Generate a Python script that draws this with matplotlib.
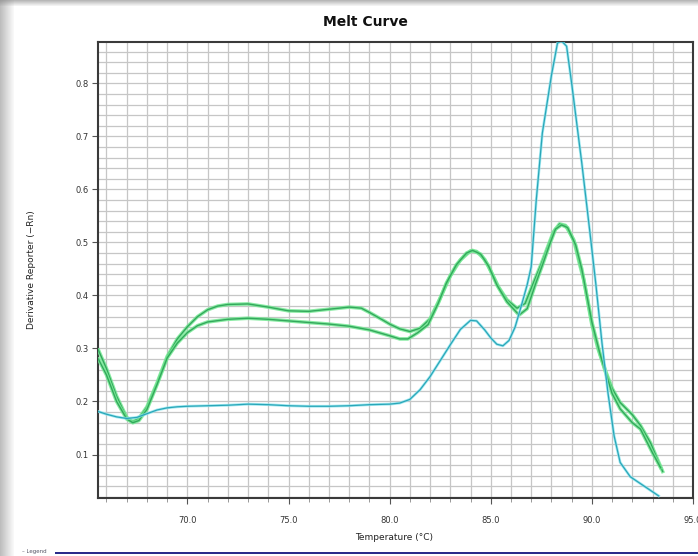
import matplotlib
matplotlib.use("Agg")
import matplotlib.pyplot as plt
import matplotlib.patheffects as pe
from matplotlib.patches import Rectangle
from matplotlib.ticker import MultipleLocator, FormatStrFormatter
import numpy as np

# ---- data ----
cyan_t = [65.6, 66.0, 66.5, 67.0, 67.5, 68.0, 68.5, 69.0, 69.5, 70.0, 71.0, 72.0, 73.0,
          74.0, 75.0, 76.0, 77.0, 78.0, 79.0, 80.0, 80.5, 81.0, 81.5, 82.0, 82.5, 83.0,
          83.5, 84.0, 84.3, 84.7, 85.0, 85.3, 85.6, 85.9, 86.2, 86.5, 86.8, 87.0, 87.25,
          87.55, 88.0, 88.3, 88.5, 88.75, 89.0, 89.5, 89.9, 90.2, 90.5, 90.8, 91.1, 91.4,
          91.9, 92.6, 93.3]
cyan_v = [0.181, 0.176, 0.171, 0.168, 0.170, 0.177, 0.184, 0.188, 0.190, 0.191, 0.192,
          0.193, 0.195, 0.194, 0.192, 0.191, 0.191, 0.192, 0.194, 0.195, 0.197, 0.204,
          0.222, 0.247, 0.277, 0.307, 0.336, 0.353, 0.352, 0.335, 0.320, 0.308, 0.305,
          0.315, 0.340, 0.379, 0.420, 0.454, 0.580, 0.706, 0.815, 0.876, 0.880, 0.870,
          0.800, 0.650, 0.520, 0.420, 0.310, 0.215, 0.135, 0.085, 0.058, 0.040, 0.022]

green1_t = [65.6, 66.0, 66.5, 67.0, 67.3, 67.6, 68.0, 68.5, 69.0, 69.5, 70.0, 70.5, 71.0,
            71.5, 72.0, 73.0, 74.0, 75.0, 76.0, 77.0, 78.0, 78.6, 79.0, 79.6, 80.0, 80.5,
            81.0, 81.5, 82.0, 82.5, 83.0, 83.5, 84.0, 84.3, 84.7, 85.0, 85.4, 85.8, 86.3,
            86.7, 87.1, 87.5, 87.8, 88.1, 88.4, 88.7, 89.1, 89.4, 89.6, 90.0, 90.3, 90.7,
            91.0, 91.4, 92.0, 92.4, 92.9, 93.5]
green1_v = [0.297, 0.262, 0.210, 0.170, 0.162, 0.168, 0.190, 0.235, 0.285, 0.318, 0.341,
            0.360, 0.373, 0.380, 0.383, 0.384, 0.378, 0.371, 0.370, 0.374, 0.378, 0.376,
            0.368, 0.355, 0.346, 0.337, 0.332, 0.338, 0.356, 0.395, 0.437, 0.467, 0.484,
            0.483, 0.468, 0.446, 0.415, 0.392, 0.376, 0.385, 0.423, 0.460, 0.490, 0.520,
            0.535, 0.532, 0.505, 0.458, 0.429, 0.345, 0.300, 0.255, 0.225, 0.198, 0.175,
            0.155, 0.122, 0.068]

green2_t = [65.6, 66.0, 66.5, 67.0, 67.3, 67.6, 68.0, 68.5, 69.0, 69.5, 70.0, 70.5, 71.0,
            72.0, 73.0, 74.0, 75.0, 76.0, 77.0, 78.0, 79.0, 80.0, 80.5, 80.9, 81.4, 81.9,
            82.4, 82.8, 83.3, 83.8, 84.1, 84.5, 84.9, 85.3, 85.8, 86.4, 86.8, 87.2, 87.6,
            87.9, 88.2, 88.5, 88.8, 89.2, 89.5, 90.0, 90.4, 90.8, 91.0, 91.4, 92.0, 92.4,
            93.0, 93.4]
green2_v = [0.280, 0.250, 0.200, 0.167, 0.160, 0.164, 0.185, 0.232, 0.282, 0.310, 0.330,
            0.343, 0.350, 0.355, 0.357, 0.355, 0.352, 0.349, 0.346, 0.342, 0.335, 0.324,
            0.318, 0.318, 0.330, 0.345, 0.385, 0.423, 0.458, 0.480, 0.485, 0.478, 0.455,
            0.420, 0.388, 0.363, 0.375, 0.420, 0.462, 0.495, 0.525, 0.533, 0.528, 0.495,
            0.450, 0.350, 0.290, 0.240, 0.215, 0.186, 0.160, 0.148, 0.103, 0.075]

x_ticks = [70.0, 75.0, 80.0, 85.0, 90.0, 95.0]
y_ticks = [0.1, 0.2, 0.3, 0.4, 0.5, 0.6, 0.7, 0.8]

W, H = 698, 556
fig = plt.figure(figsize=(W / 100, H / 100), dpi=100)
fig.patch.set_facecolor("white")

# screenshot frame decoration
for i, a in enumerate(np.linspace(0.55, 0.05, 14)):
    fig.add_artist(Rectangle((i / W, 0), 1 / W, 1, transform=fig.transFigure,
                             color="#888888", alpha=a, lw=0))
for i, a in enumerate(np.linspace(0.6, 0.1, 6)):
    fig.add_artist(Rectangle((0, 1 - (i + 1) / H), 1, 1 / H, transform=fig.transFigure,
                             color="#888888", alpha=a, lw=0))
fig.add_artist(Rectangle((55 / W, 2 / H), 1, 2.5 / H, transform=fig.transFigure,
                         color="#2b2b8a", lw=0))
fig.text(22 / W, 5 / H, "\u2013 Legend", fontsize=4, color="#556", va="center")

ax = fig.add_axes([98 / W, 1 - 498 / H, (693 - 98) / W, (498 - 42) / H])
ax.set_xlim(65.58, 95.0)
ax.set_ylim(0.018, 0.878)

ax.xaxis.set_major_locator(plt.FixedLocator(x_ticks))
ax.xaxis.set_major_formatter(FormatStrFormatter("%.1f"))
ax.xaxis.set_minor_locator(MultipleLocator(1.0))
ax.yaxis.set_major_locator(plt.FixedLocator(y_ticks))
ax.yaxis.set_major_formatter(FormatStrFormatter("%.1f"))
ax.yaxis.set_minor_locator(MultipleLocator(0.02))

ax.grid(which="both", axis="both", color="#c6c6c6", linewidth=0.9)
ax.set_axisbelow(True)

ax.tick_params(axis="both", which="major", labelsize=6, length=4, width=0.8,
               color="#555555", labelcolor="#333333", pad=3)
ax.tick_params(axis="x", which="minor", length=3, width=0.6, color="#888888")
ax.tick_params(axis="y", which="minor", length=0)
ax.tick_params(axis="x", which="major", pad=9)

for s in ax.spines.values():
    s.set_color("#3a3a3a")
    s.set_linewidth(1.5)

halo_g = [pe.Stroke(linewidth=2.6, foreground="#74e893", alpha=0.85), pe.Normal()]
ax.plot(green1_t, green1_v, color="#33a85c", lw=1.0, path_effects=halo_g, zorder=3)
ax.plot(green2_t, green2_v, color="#33a85c", lw=1.0, path_effects=halo_g, zorder=3)
halo_c = [pe.Stroke(linewidth=2.0, foreground="#8ae4ee", alpha=0.8), pe.Normal()]
ax.plot(cyan_t, cyan_v, color="#2aa6b8", lw=0.9, path_effects=halo_c, zorder=4)

fig.text(365 / W, 1 - 22 / H, "Melt Curve", ha="center", va="center",
         fontsize=10, fontweight="bold", color="#111111")
fig.text(394 / W, 1 - 538 / H, "Temperature (\u00b0C)", ha="center", va="center",
         fontsize=6.5, color="#222222")
fig.text(32 / W, 1 - 270 / H, "Derivative Reporter (\u2212Rn)", ha="center", va="center",
         rotation=90, fontsize=6.5, color="#222222")

fig.savefig("out.png", dpi=100, facecolor=fig.get_facecolor())
